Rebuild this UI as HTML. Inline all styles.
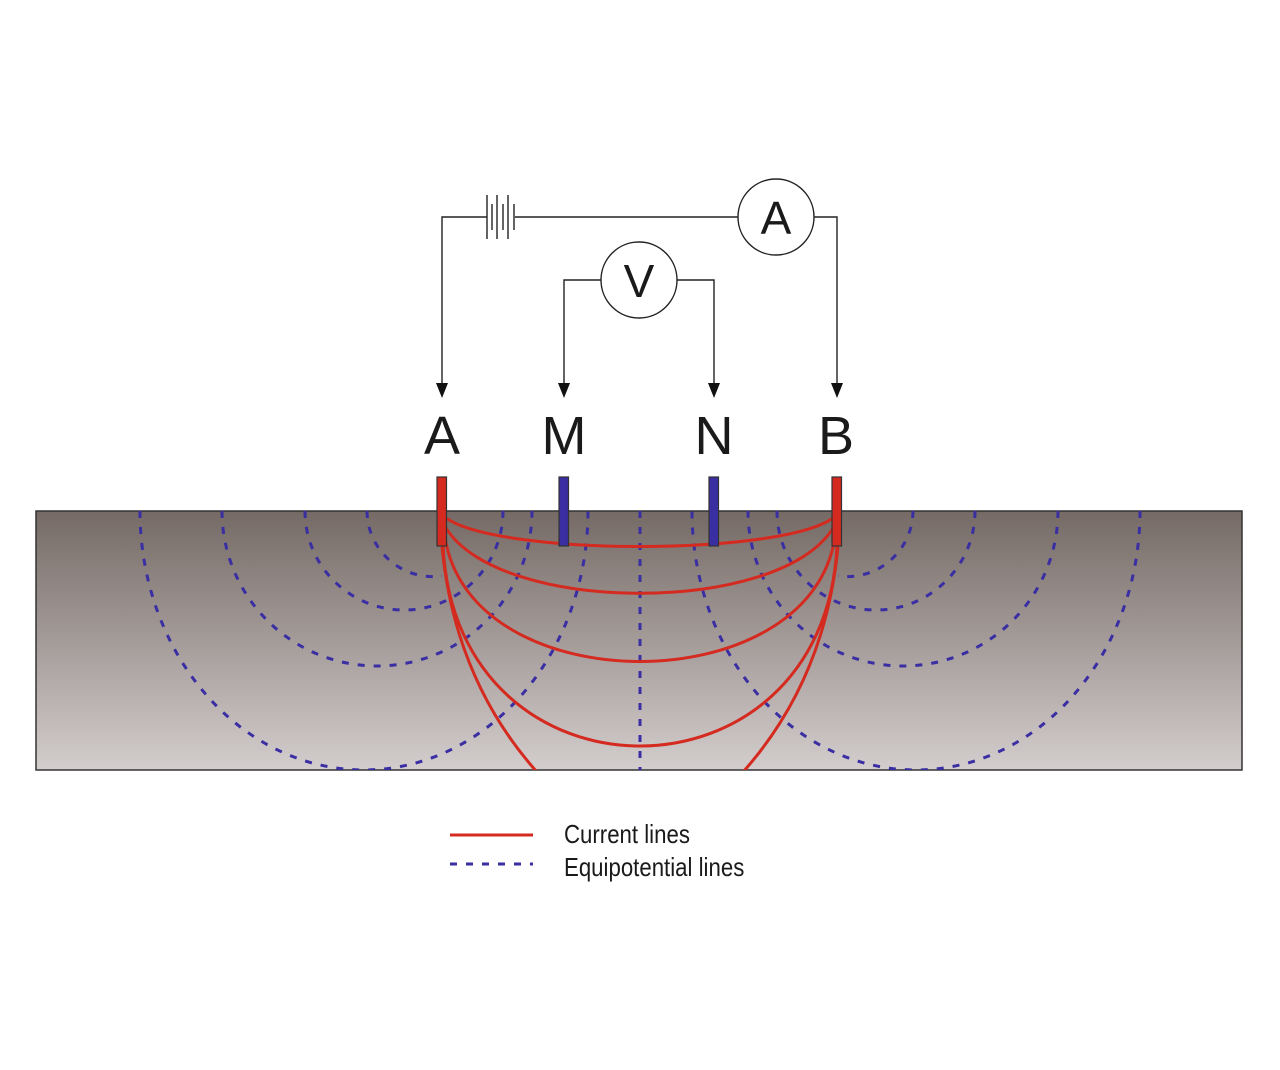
<!DOCTYPE html>
<html><head><meta charset="utf-8"><style>
html,body{margin:0;padding:0;background:#fff;}
svg{display:block;}
</style></head><body>
<svg width="1280" height="1070" viewBox="0 0 1280 1070" xmlns="http://www.w3.org/2000/svg">
<defs>
<linearGradient id="g" x1="0" y1="0" x2="0" y2="1">
<stop offset="0" stop-color="#756a65"/>
<stop offset="1" stop-color="#d3cdcd"/>
</linearGradient>
<clipPath id="c"><rect x="36" y="511" width="1206" height="259"/></clipPath>
</defs>
<rect x="36" y="511" width="1206" height="259" fill="url(#g)" stroke="#333" stroke-width="1.5"/>
<g clip-path="url(#c)" fill="none" stroke="#3a2ea3" stroke-width="3" stroke-dasharray="7 9">
<path d="M367,511 A66,66 0 0 0 442,576"/>
<path d="M305,511 A99,99 0 0 0 503,511"/>
<path d="M222,511 A155,155 0 0 0 532,511"/>
<path d="M140,511 A224,259 0 0 0 588,511"/>
<path d="M913,511 A66,66 0 0 1 838,576"/>
<path d="M975,511 A99,99 0 0 1 777,511"/>
<path d="M1058,511 A155,155 0 0 1 748,511"/>
<path d="M1140,511 A224,259 0 0 1 692,511"/>
<path d="M640,511 L640,770"/>
</g>
<g clip-path="url(#c)" fill="none" stroke="#d42a20" stroke-width="3">
<path d="M446,518 C500,556 780,556 833,518"/>
<path d="M446,528 C500,615 780,615 833,528"/>
<path d="M445,537 C470,703 810,703 835,537"/>
<path d="M443,545 C455,813 825,813 837,545"/>
<path d="M442,547 Q455,680 537,772"/>
<path d="M838,547 Q825,680 743,772"/>
</g>
<rect x="437" y="477" width="9.5" height="69" fill="#d42a20" stroke="#333" stroke-width="1.2"/>
<rect x="559" y="477" width="9.5" height="69" fill="#3a2ea3" stroke="#333" stroke-width="1.2"/>
<rect x="709" y="477" width="9.5" height="69" fill="#3a2ea3" stroke="#333" stroke-width="1.2"/>
<rect x="832" y="477" width="9.5" height="69" fill="#d42a20" stroke="#333" stroke-width="1.2"/>
<g fill="none" stroke="#222" stroke-width="1.4">
<path d="M442,385 L442,217 L487,217"/>
<path d="M515,217 L738,217"/>
<path d="M814,217 L837,217 L837,385"/>
<path d="M564,385 L564,280 L601,280"/>
<path d="M677,280 L714,280 L714,385"/>
<circle cx="776" cy="217" r="38"/>
<circle cx="639" cy="280" r="38"/>
<line x1="487" y1="195" x2="487" y2="239"/>
<line x1="492" y1="204" x2="492" y2="230"/>
<line x1="497" y1="195" x2="497" y2="239"/>
<line x1="503" y1="204" x2="503" y2="230"/>
<line x1="508" y1="195" x2="508" y2="239"/>
<line x1="514" y1="204" x2="514" y2="230"/>
</g>
<g fill="#111">
<path d="M436,383 L448,383 L442,398 Z"/>
<path d="M558,383 L570,383 L564,398 Z"/>
<path d="M708,383 L720,383 L714,398 Z"/>
<path d="M831,383 L843,383 L837,398 Z"/>
</g>
<g font-family="Liberation Sans, sans-serif" fill="#1a1a1a" text-anchor="middle">
<text x="776" y="234" font-size="46">A</text>
<text x="639" y="297" font-size="46">V</text>
<text x="442" y="454" font-size="54">A</text>
<text x="564" y="454" font-size="54">M</text>
<text x="714" y="454" font-size="54">N</text>
<text x="836" y="454" font-size="54">B</text>
</g>
<line x1="450" y1="835" x2="533" y2="835" stroke="#d42a20" stroke-width="3"/>
<line x1="450" y1="864" x2="533" y2="864" stroke="#3a2ea3" stroke-width="3" stroke-dasharray="7 9"/>
<g font-family="Liberation Sans, sans-serif" fill="#1a1a1a" font-size="26">
<text x="564" y="843" transform="translate(564 0) scale(0.855 1) translate(-564 0)">Current lines</text>
<text x="564" y="876" transform="translate(564 0) scale(0.855 1) translate(-564 0)">Equipotential lines</text>
</g>
</svg>
</body></html>
